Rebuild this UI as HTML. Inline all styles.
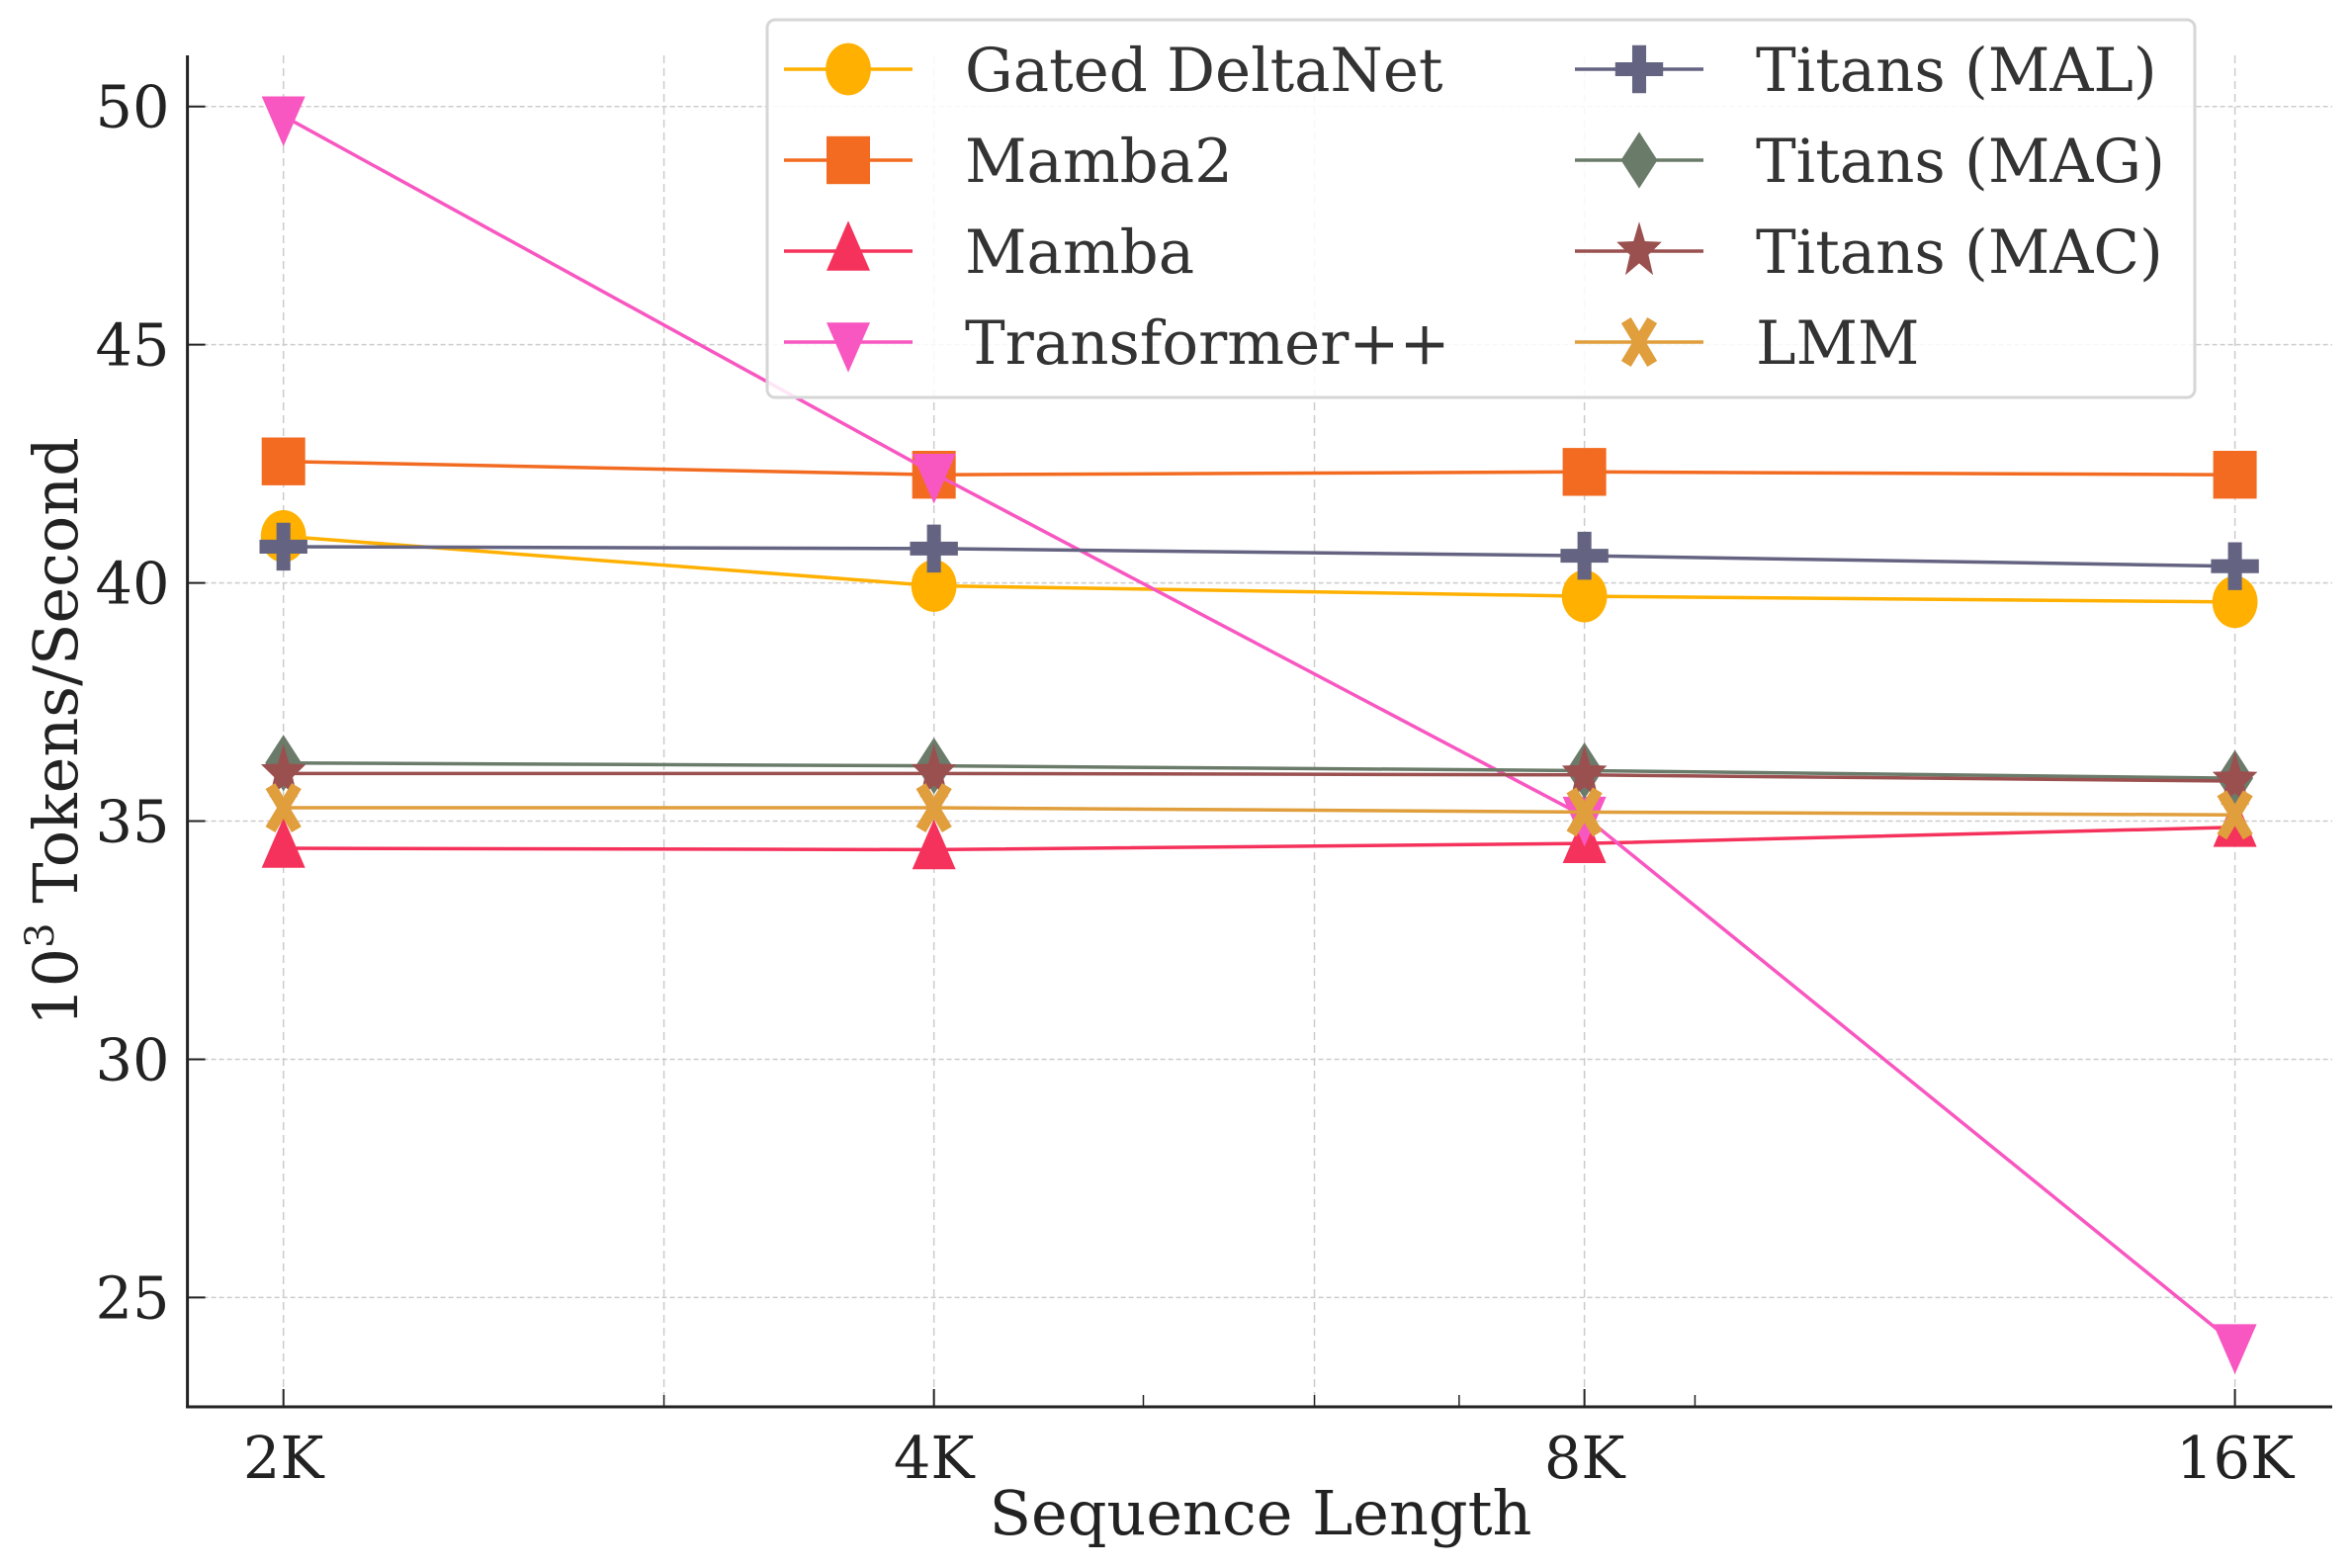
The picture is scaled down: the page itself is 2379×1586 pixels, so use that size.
<!DOCTYPE html>
<html><head><meta charset="utf-8"><style>
html,body{margin:0;padding:0;background:#fff}
svg{display:block}
text{font-family:"DejaVu Serif","Liberation Serif",serif;fill:#222}
</style></head><body>
<svg id="chart" width="2379" height="1586" viewBox="0 0 2379 1586" xmlns="http://www.w3.org/2000/svg">
<g id="grid"></g>
<g id="series"></g>
<g id="axes"></g>
<g id="legend"></g>
</svg>
<script>
const categories = ["2K","4K","8K","16K"];
const xValues = [2,4,8,16];
const yTicks = [25,30,35,40,45,50];
const seriesNames = ["Gated DeltaNet","Mamba2","Mamba","Transformer++","Titans (MAL)","Titans (MAG)","Titans (MAC)","LMM"];
const gatedDeltaNet = [40.98,39.94,39.72,39.6];
const mamba2 = [42.55,42.27,42.33,42.27];
const mamba = [34.43,34.4,34.53,34.87];
const transformerPP = [49.8,42.3,35.1,24.03];
const titansMAL = [40.76,40.72,40.57,40.35];
const titansMAG = [36.22,36.16,36.06,35.9];
const titansMAC = [36.0,36.0,35.97,35.84];
const lmm = [35.28,35.28,35.19,35.13];
const seriesValues = [gatedDeltaNet,mamba2,mamba,transformerPP,titansMAL,titansMAG,titansMAC,lmm];
const colors = ["#FFB000","#F26B21","#F5325B","#F857C1","#646482","#6B7B6A","#9B5050","#E09E3C"];
const markers = ["circle","square","triangle","tridown","plus","diamond","star","x"];

const NS="http://www.w3.org/2000/svg";
const L=189.6,R=2359,T=56,B=1423;
const X0=286.7,X1=2260.6;
function xs(v){return X0+(Math.log2(v)-1)/3*(X1-X0);}
function ys(v){return 107.7+(50-v)*(1312.4-107.7)/25;}
function mk(tag,attrs,parent){const e=document.createElementNS(NS,tag);for(const k in attrs)e.setAttribute(k,attrs[k]);parent.appendChild(e);return e;}

const grid=document.getElementById('grid');
[2,3,4,6,8,16].forEach(v=>{
  const l=mk('line',{x1:xs(v),x2:xs(v),y1:T,y2:B,stroke:'#ccc','stroke-width':1.5,'stroke-dasharray':'8,5'},grid);
  
  
});
yTicks.forEach(v=>{
  const l=mk('line',{x1:L,x2:R,y1:ys(v),y2:ys(v),stroke:'#ccc','stroke-width':1.5,'stroke-dasharray':'5,3'},grid);
  
  
});

function marker(type,cx,cy,color,s,parent){
  let e;
  if(type==='circle') e=mk('ellipse',{cx,cy,rx:s*0.52,ry:s*0.6,fill:color},parent);
  else if(type==='square') e=mk('rect',{x:cx-s*0.5,y:cy-s*0.55,width:s,height:s*1.1,fill:color},parent);
  else if(type==='triangle') e=mk('polygon',{points:`${cx},${cy-s*0.7} ${cx+s*0.5},${cy+s*0.45} ${cx-s*0.5},${cy+s*0.45}`,fill:color},parent);
  else if(type==='tridown') e=mk('polygon',{points:`${cx},${cy+s*0.7} ${cx+s*0.5},${cy-s*0.45} ${cx-s*0.5},${cy-s*0.45}`,fill:color},parent);
  else if(type==='plus'){const a=s*0.55,w=s*0.16;e=mk('path',{d:`M${cx-w},${cy-a}h${2*w}v${a-w}h${a-w}v${2*w}h${-(a-w)}v${a-w}h${-2*w}v${-(a-w)}h${-(a-w)}v${-2*w}h${a-w}z`,fill:color},parent);}
  else if(type==='diamond') e=mk('polygon',{points:`${cx},${cy-s*0.65} ${cx+s*0.42},${cy} ${cx},${cy+s*0.65} ${cx-s*0.42},${cy}`,fill:color},parent);
  else if(type==='star'){let p=[];for(let i=0;i<10;i++){const r=i%2?s*0.28:s*0.68;const a=-Math.PI/2+i*Math.PI/5;p.push((cx+r*Math.cos(a)*0.8)+','+(cy+r*Math.sin(a)));}e=mk('polygon',{points:p.join(' '),fill:color},parent);}
  else {const a=s*0.5,w=s*0.2;e=mk('g',{},parent);
    mk('line',{x1:cx-a*0.6,y1:cy-a,x2:cx+a*0.6,y2:cy+a,stroke:color,'stroke-width':w*1.3},e);
    mk('line',{x1:cx+a*0.6,y1:cy-a,x2:cx-a*0.6,y2:cy+a,stroke:color,'stroke-width':w*1.3},e);}
  return e;
}

const sg=document.getElementById('series');
seriesValues.forEach((vals,si)=>{
  const g=mk('g',{},sg);
  
  
  const pts=vals.map((v,i)=>xs(xValues[i])+','+ys(v)).join(' ');
  const pl=mk('polyline',{points:pts,fill:'none',stroke:colors[si],'stroke-width':3.5},g);
  
  
  vals.forEach((v,i)=>{
    const m=marker(markers[si],xs(xValues[i]),ys(v),colors[si],44,g);
    
    
  });
});

const ax=document.getElementById('axes');
mk('line',{x1:L,x2:L,y1:T,y2:B+1.5,stroke:'#222','stroke-width':3},ax);
mk('line',{x1:L-1.5,x2:R,y1:B,y2:B,stroke:'#222','stroke-width':3},ax);
[3,5,6,7,9].forEach(v=>{mk('line',{x1:xs(v),x2:xs(v),y1:B,y2:B-12,stroke:'#222','stroke-width':1.5},ax);});
categories.forEach((c,i)=>{
  mk('line',{x1:xs(xValues[i]),x2:xs(xValues[i]),y1:B,y2:B-18,stroke:'#222','stroke-width':2},ax);
  const t=mk('text',{x:xs(xValues[i]),y:B+72,'text-anchor':'middle','font-size':59},ax);
  t.textContent=c;
  
  
});
yTicks.forEach(v=>{
  mk('line',{x1:L,x2:L+18,y1:ys(v),y2:ys(v),stroke:'#222','stroke-width':2},ax);
  const t=mk('text',{x:L-18,y:ys(v)+21,'text-anchor':'end','font-size':59},ax);
  t.textContent=v;
  
  
});
const xt=mk('text',{x:1275,y:1552,'text-anchor':'middle','font-size':62},ax);
xt.textContent='Sequence Length';


const yt=mk('text',{x:0,y:0,'text-anchor':'middle','font-size':62,transform:'translate(78,740) rotate(-90)'},ax);
yt.innerHTML='10<tspan dy="-24" font-size="40">3</tspan><tspan dy="24"> Tokens/Second</tspan>';



const lg=document.getElementById('legend');
const box=mk('rect',{x:776,y:20,width:1444,height:382,rx:8,fill:'rgba(255,255,255,0.85)',stroke:'#d6d6d6','stroke-width':3},lg);


seriesNames.forEach((n,i)=>{
  const col=Math.floor(i/4),row=i%4;
  const lx=col?1593:793,cy=70+row*92;
  const g=mk('g',{},lg);
  
  
  mk('line',{x1:lx,x2:lx+130,y1:cy,y2:cy,stroke:colors[i],'stroke-width':3.5},g);
  marker(markers[i],lx+65,cy,colors[i],44,g);
  const t=mk('text',{x:lx+183,y:cy+22,'font-size':61,fill:'#333'},g);
  t.style.fill='#333';
  t.textContent=n;
});
</script>
</body></html>
